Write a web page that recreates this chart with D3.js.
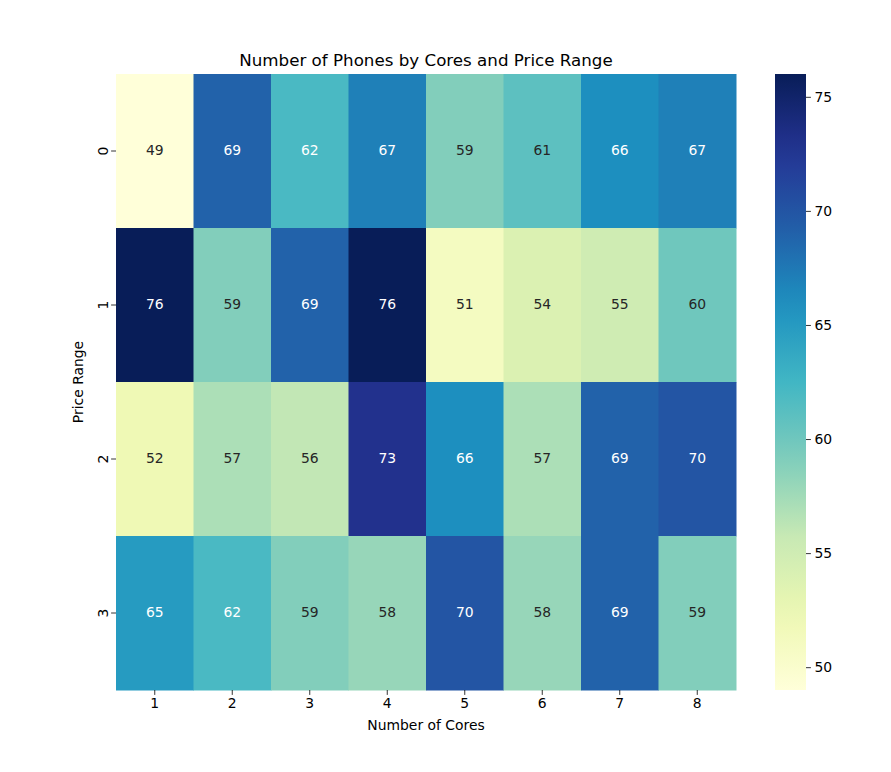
<!DOCTYPE html>
<html>
<head>
<meta charset="utf-8">
<script src="https://cdn.jsdelivr.net/npm/d3@7"></script>
<style>
  body { margin: 0; background: #fff; }
  text { font-family: "DejaVu Sans", sans-serif; fill: #000; }
  .axis path { display: none; }
  .axis line { stroke: #000; stroke-width: 0.8; }
</style>
</head>
<body>
<div id="chart"></div>
<script>
// Data
var cores = [1, 2, 3, 4, 5, 6, 7, 8];
var priceRanges = [0, 1, 2, 3];
var counts0 = [49, 69, 62, 67, 59, 61, 66, 67];
var counts1 = [76, 59, 69, 76, 51, 54, 55, 60];
var counts2 = [52, 57, 56, 73, 66, 57, 69, 70];
var counts3 = [65, 62, 59, 58, 70, 58, 69, 59];
var colorTicks = [50, 55, 60, 65, 70, 75];

var rows = [counts0, counts1, counts2, counts3];

(function() {
  var W = 891, H = 772;
  var margin = { top: 74, left: 116 },
      width = 620,
      height = 616;

  var cells = [];
  rows.forEach(function(r, i) {
    r.forEach(function(v, j) {
      cells.push({ price: priceRanges[i], core: cores[j], value: v });
    });
  });

  var vmin = d3.min(cells, function(d) { return d.value; });
  var vmax = d3.max(cells, function(d) { return d.value; });

  // matplotlib YlGnBu (linear segmented)
  var ylgnbu = d3.piecewise(d3.interpolateRgb, [
    "#ffffd9", "#edf8b1", "#c7e9b4", "#7fcdbb", "#41b6c4",
    "#1d91c0", "#225ea8", "#253494", "#081d58"
  ]);
  var color = d3.scaleSequential(ylgnbu).domain([vmin, vmax]);

  var x = d3.scaleBand().domain(cores).range([0, width]);
  var y = d3.scaleBand().domain(priceRanges).range([0, height]);

  var svg = d3.select("#chart").append("svg")
    .attr("width", W)
    .attr("height", H);

  var g = svg.append("g")
    .attr("transform", "translate(" + margin.left + "," + margin.top + ")");

  g.selectAll("rect.cell")
      .data(cells)
    .enter().append("rect")
      .attr("class", "cell")
      .attr("x", function(d) { return x(d.core); })
      .attr("y", function(d) { return y(d.price); })
      .attr("width", x.bandwidth() + 0.5)
      .attr("height", y.bandwidth() + 0.5)
      .attr("fill", function(d) { return color(d.value); });

  // seaborn picks text colour by luminance
  function lum(c) {
    var rgb = d3.rgb(c);
    var f = function(v) {
      v = v / 255;
      return v <= 0.03928 ? v / 12.92 : Math.pow((v + 0.055) / 1.055, 2.4);
    };
    return 0.2126 * f(rgb.r) + 0.7152 * f(rgb.g) + 0.0722 * f(rgb.b);
  }

  g.selectAll("text.annot")
      .data(cells)
    .enter().append("text")
      .attr("class", "annot")
      .attr("x", function(d) { return x(d.core) + x.bandwidth() / 2; })
      .attr("y", function(d) { return y(d.price) + y.bandwidth() / 2 - 1; })
      .attr("text-anchor", "middle")
      .attr("dominant-baseline", "central")
      .style("font-size", "13.9px")
      .style("fill", function(d) { return lum(color(d.value)) > 0.408 ? "#262626" : "#ffffff"; })
      .text(function(d) { return d.value; });

  // Axes
  var xAxis = g.append("g")
    .attr("class", "axis")
    .attr("transform", "translate(0," + height + ")")
    .call(d3.axisBottom(x).tickSize(4.9).tickPadding(3.5));
  xAxis.selectAll("text").style("font-size", "13.9px");

  var yAxis = g.append("g")
    .attr("class", "axis")
    .call(d3.axisLeft(y).tickSize(4.9).tickPadding(3.5));
  yAxis.selectAll("text")
    .style("font-size", "13.9px")
    .attr("transform", function() {
      return "rotate(-90," + (-8.4) + ",0)";
    })
    .attr("x", -8.4)
    .attr("dy", "0")
    .attr("text-anchor", "middle")
    .attr("dominant-baseline", "auto");

  g.append("text")
    .attr("x", width / 2)
    .attr("y", height + 40)
    .attr("text-anchor", "middle")
    .style("font-size", "13.9px")
    .text("Number of Cores");

  g.append("text")
    .attr("transform", "translate(-33," + height / 2 + ") rotate(-90)")
    .attr("text-anchor", "middle")
    .style("font-size", "13.9px")
    .text("Price Range");

  g.append("text")
    .attr("x", width / 2)
    .attr("y", -8.3)
    .attr("text-anchor", "middle")
    .style("font-size", "16.7px")
    .text("Number of Phones by Cores and Price Range");

  // Colorbar
  var cbX = 775, cbW = 31;
  var cb = svg.append("g").attr("transform", "translate(" + cbX + "," + margin.top + ")");
  var cScale = d3.scaleLinear().domain([vmin, vmax]).range([height, 0]);

  var defs = svg.append("defs");
  var grad = defs.append("linearGradient")
    .attr("id", "cbgrad")
    .attr("x1", 0).attr("y1", 1).attr("x2", 0).attr("y2", 0);
  d3.range(0, 1.0001, 0.05).forEach(function(t) {
    grad.append("stop")
      .attr("offset", t)
      .attr("stop-color", color(vmin + t * (vmax - vmin)));
  });

  cb.append("rect")
    .attr("width", cbW)
    .attr("height", height)
    .attr("fill", "url(#cbgrad)");

  var cAxis = cb.append("g")
    .attr("class", "axis")
    .attr("transform", "translate(" + cbW + ",0)")
    .call(d3.axisRight(cScale).tickValues(colorTicks).tickSize(4.9).tickPadding(3.5));
  cAxis.selectAll("text").style("font-size", "13.9px");
})();
</script>
</body>
</html>
